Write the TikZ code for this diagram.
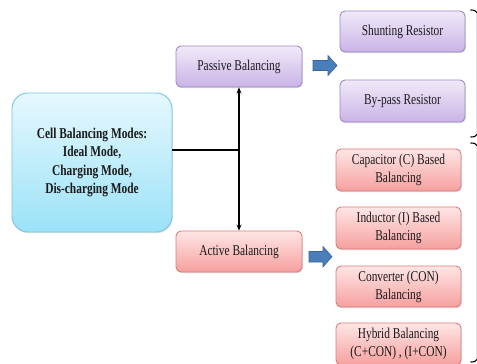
\documentclass[tikz,border=0pt]{standalone}
\usepackage{fontspec}
\setmainfont[FakeStretch=0.76]{Liberation Serif}
\usetikzlibrary{shadows,arrows.meta}
\definecolor{cyanTop}{HTML}{E6F8FE}
\definecolor{cyanBot}{HTML}{9BE2F7}
\definecolor{cyanLine}{HTML}{7CC6DE}
\definecolor{purTop}{HTML}{F1EAF9}
\definecolor{purBot}{HTML}{C9B3E6}
\definecolor{purLine}{HTML}{9C88C6}
\definecolor{redTop}{HTML}{FEE6E5}
\definecolor{redBot}{HTML}{F5A09F}
\definecolor{redLine}{HTML}{DE7C7B}
\definecolor{arrFill}{HTML}{4A7EBB}
\definecolor{arrLine}{HTML}{38649A}
\definecolor{txt}{HTML}{1A1A1A}
\tikzset{
  basebox/.style={rectangle, rounded corners=5pt, line width=0.9pt, align=center,
    text=txt, font=\fontsize{15}{18}\selectfont,
    drop shadow={shadow xshift=0.8pt, shadow yshift=-1.2pt, opacity=0.25, fill=gray}},
  purbox/.style={basebox, draw=purLine, top color=purTop, bottom color=purBot,
    minimum width=125pt, minimum height=41pt},
  redbox/.style={basebox, draw=redLine, top color=redTop, bottom color=redBot,
    minimum width=125pt, minimum height=42pt},
  cellbox/.style={basebox, rounded corners=16pt, draw=cyanLine, top color=cyanTop, bottom color=cyanBot,
    minimum width=160pt, minimum height=139pt, font=\fontsize{15}{18.3}\selectfont\bfseries},
  blockarrow/.style={draw=arrLine, fill=arrFill, line width=0.6pt, line join=miter},
  brace/.style={line width=1.1pt, black},
  braceline/.style={line width=0.5pt, black!12}
}
\begin{document}
\begin{tikzpicture}[x=1pt, y=-1pt]
\useasboundingbox (0,0) rectangle (477,364);
\fill[white] (0,0) rectangle (477,364);
\begin{scope}
\clip (0,0) rectangle (477,364);
\node[cellbox] (cell) at (92,162.5) {Cell Balancing Modes:\\Ideal Mode,\\Charging Mode,\\Dis-charging Mode};
\node[purbox, minimum width=126pt] (passive) at (239,66.5) {Passive Balancing};
\node[redbox, minimum width=126pt, minimum height=41pt] (active) at (239,251.5) {Active Balancing};
\node[purbox] (shunt) at (402.5,31.5) {Shunting Resistor};
\node[purbox, minimum height=42pt] (bypass) at (402.5,101) {By-pass Resistor};
\node[redbox] (cap) at (398.5,170) {Capacitor (C) Based\\Balancing};
\node[redbox] (ind) at (398.5,228) {Inductor (I) Based\\Balancing};
\node[redbox, minimum height=41pt] (conv) at (398.5,286.5) {Converter (CON)\\Balancing};
\node[redbox] (hyb) at (398.5,344) {Hybrid Balancing\\(C+CON) , (I+CON)};

\coordinate (j) at (239,150);
\draw[line width=2pt] (cell.east |- j) -- (j);
\draw[line width=1.3pt, {Stealth[length=6pt,width=5pt]}-{Stealth[length=6pt,width=5pt]}] (passive.south) -- (active.north);

% block arrows
\draw[blockarrow] (313,60.5) -- (328,60.5) -- (328,55.5) -- (337,65.5) -- (328,75.5) -- (328,70.5) -- (313,70.5) -- cycle;
\draw[blockarrow] (309,251.5) -- (323,251.5) -- (323,246.5) -- (332,256.7) -- (323,267) -- (323,262) -- (309,262) -- cycle;

% braces (cut at the right edge)
\draw[braceline] (476.5,12) -- (476.5,135);
\draw[braceline] (476.5,145) -- (476.5,360);
\draw[brace] (470.5,10) .. controls (474,10) and (476,10.5) .. (477,12.5);
\draw[brace] (470.5,137) .. controls (474,137) and (476,136.5) .. (477,134.5);
\draw[brace] (470.5,143) .. controls (474,143) and (476,143.5) .. (477,145.5);
\draw[brace] (470.5,362) .. controls (474,362) and (476,361.5) .. (477,359.5);
\end{scope}
\end{tikzpicture}
\end{document}
